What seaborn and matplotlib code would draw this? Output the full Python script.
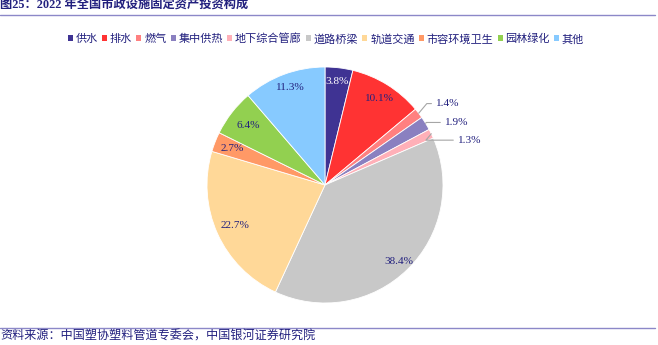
import numpy as np
import matplotlib
matplotlib.use("Agg")
import matplotlib.pyplot as plt
from matplotlib.lines import Line2D
from matplotlib.patches import Patch
import seaborn as sns

categories = ["供水", "排水", "燃气", "集中供热", "地下综合管廊", "道路桥梁",
              "轨道交通", "市容环境卫生", "园林绿化", "其他"]
values = [3.8, 10.1, 1.4, 1.9, 1.3, 38.4, 22.7, 2.7, 6.4, 11.3]
colors = ["#3F3393", "#FF3333", "#FF8080", "#8A80C0", "#FFB0B8", "#C8C8C8",
          "#FFD898", "#FF9966", "#92D050", "#87CAFF"]
title = "图25：2022 年全国市政设施固定资产投资构成"
source = "资料来源：中国塑协塑料管道专委会，中国银河证券研究院"

sns.set_theme(style="white")
FONT = ["Liberation Serif", "Noto Sans CJK SC", "DejaVu Sans"]
plt.rcParams["font.family"] = FONT
TXT = "#22207E"
LINE = "#8C88C8"

W, H = 658, 345
fig = plt.figure(figsize=(W / 100, H / 100), dpi=100)
fig.patch.set_facecolor("white")

# title + rules
fig.text(0.0, 1 - 0.0 / H, title, ha="left", va="top", fontsize=8.8,
         fontweight="bold", color=TXT)
fig.add_artist(Line2D([0, 655 / W], [1 - 14.5 / H] * 2, color=LINE, lw=1.0))
fig.add_artist(Line2D([0, 655 / W], [1 - 327.5 / H] * 2, color=LINE, lw=1.0))
fig.text(0.0, 1 - 337 / H, source, ha="left", va="center", fontsize=8.7,
         style="italic", color=TXT)

# pie
R = 118
cx, cy = 325, 185
ax = fig.add_axes([(cx - R) / W, (H - cy - R) / H, 2 * R / W, 2 * R / H])
wedges, _ = ax.pie(values, colors=colors, startangle=90, counterclock=False,
                   wedgeprops=dict(edgecolor="white", linewidth=0.6))
ax.set_xlim(-1, 1)
ax.set_ylim(-1, 1)
ax.set_aspect("auto")
ax.axis("off")

# label layout
inside_r = {0: 0.88, 1: 0.86, 5: 0.9, 6: 0.84, 7: 0.84, 8: 0.82, 9: 0.88}
outside_pos = {2: (0.93, 0.69), 3: (1.005, 0.53), 4: (1.115, 0.38)}
for i, w in enumerate(wedges):
    ang = np.deg2rad((w.theta1 + w.theta2) / 2)
    lab = f"{values[i]:.1f}%"
    if i in inside_r:
        r = inside_r[i]
        ax.text(r * np.cos(ang), r * np.sin(ang), lab, ha="center", va="center",
                fontsize=8.1, color="white" if i == 0 else TXT)
    else:
        tx, ty = outside_pos[i]
        ax.annotate(lab, xy=(np.cos(ang), np.sin(ang)), xytext=(tx, ty),
                    ha="left", va="center", fontsize=8.1, color=TXT,
                    arrowprops=dict(arrowstyle="-", color="#A6A6A6", lw=0.8,
                                    shrinkA=0, shrinkB=0, relpos=(0, 0.5),
                                    connectionstyle="angle,angleA=0,angleB=50,rad=0"),
                    annotation_clip=False)

# legend
handles = [Patch(facecolor=c, edgecolor="none") for c in colors]
fig.legend(handles, categories, loc="center", bbox_to_anchor=(326 / W, 1 - 39 / H),
           ncol=len(categories), frameon=False, fontsize=8, handlelength=0.45,
           handleheight=0.45, handletextpad=0.27, columnspacing=0.36,
           labelcolor=TXT, borderpad=0, borderaxespad=0)

fig.savefig("out.png", dpi=100, facecolor="white")
